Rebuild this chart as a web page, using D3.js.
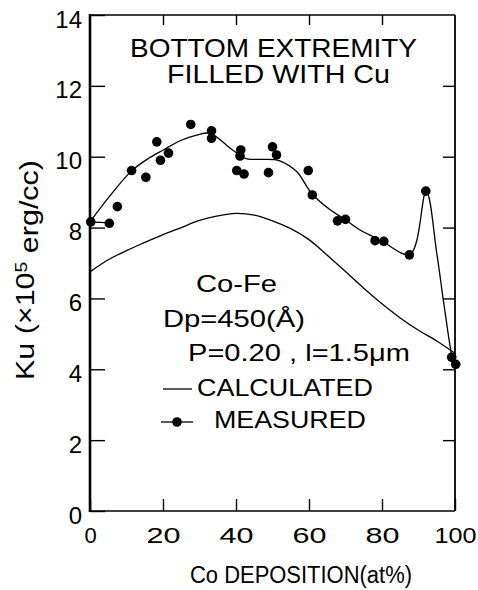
<!DOCTYPE html>
<html><head><meta charset="utf-8">
<script src="https://cdnjs.cloudflare.com/ajax/libs/d3/7.8.5/d3.min.js"></script>
<style>
html,body{margin:0;padding:0;background:#fff;}
svg{display:block;font-family:"Liberation Sans",Arial,sans-serif;}
</style></head>
<body><svg id="c" width="478" height="590"></svg>
<script>
// ---- data ----
const xTicks = [0, 20, 40, 60, 80, 100];
const yTicks = [0, 2, 4, 6, 8, 10, 12, 14];

// measured points (Co at%, Ku x10^5 erg/cc)
const measX = [0.2, 5.3, 7.5, 11.4, 15.3, 18.3, 19.3, 21.5, 27.6, 33.3, 33.3, 40.2, 41.3, 41.1, 42.2, 48.9, 50.0, 51.1, 59.8, 60.9, 67.8, 70.0, 78.1, 80.5, 87.5, 92.0, 99.1, 100.2];
const measY = [8.16, 8.12, 8.59, 9.61, 9.42, 10.42, 9.90, 10.10, 10.91, 10.73, 10.52, 9.61, 10.19, 10.02, 9.51, 9.55, 10.28, 10.05, 9.61, 8.92, 8.19, 8.23, 7.63, 7.61, 7.23, 9.03, 4.34, 4.14];

// hand-drawn curve through the measured points
const fitX = [0, 5.5, 11.4, 16, 20.1, 24.7, 29.2, 32.9, 38.8, 41.5, 43, 50.2, 52, 56.6, 60.7, 65.8, 69.4, 74, 79.5, 87.7, 92.1, 95, 96.8, 98.2, 99.1];
const fitY = [8.16, 8.9, 9.6, 9.95, 10.19, 10.45, 10.61, 10.66, 10.21, 10.02, 9.94, 9.92, 9.88, 9.58, 8.97, 8.5, 8.26, 7.93, 7.65, 7.25, 9.03, 7.28, 5.95, 4.95, 4.36];
const stubX = [0, 4.2];
const stubY = [8.16, 8.14];

// calculated curve
const calcX = [0, 5, 10, 15, 20, 25, 30, 35, 40, 45, 50, 55, 60, 65, 70, 75, 80, 85, 90, 95, 100];
const calcY = [6.75, 7.09, 7.35, 7.58, 7.8, 8.0, 8.2, 8.33, 8.40, 8.35, 8.19, 7.97, 7.66, 7.22, 6.76, 6.29, 5.85, 5.45, 5.1, 4.8, 4.45];

// ---- chart ----
const svg = d3.select("#c");
const L = 90, R = 455, T = 15, B = 511;
const x = d3.scaleLinear().domain([0, 100]).range([L, R]);
const y = d3.scaleLinear().domain([0, 14]).range([B, T]);

// axes (inward ticks)
const gL = svg.append("g").attr("transform", `translate(${L},0)`)
  .call(d3.axisLeft(y).tickValues(yTicks).tickSize(-15).tickPadding(8).tickFormat(d3.format("d")));
gL.selectAll("text").attr("dy", "0.5em").style("font-size", "24px");
const gB = svg.append("g").attr("transform", `translate(0,${B})`)
  .call(d3.axisBottom(x).tickValues(xTicks).tickSize(-12).tickPadding(16).tickFormat(d3.format("d")));
gB.selectAll("text").style("font-size", "22px")
  .each(function(d){ const s = String(d); if (s.length === 2) d3.select(this).attr("textLength", 34).attr("lengthAdjust","spacingAndGlyphs");
                      if (s.length === 3) d3.select(this).attr("textLength", 42).attr("lengthAdjust","spacingAndGlyphs"); });
svg.append("g").attr("transform", `translate(0,${T})`)
  .call(d3.axisTop(x).tickValues(xTicks.slice(1, -1)).tickSize(-10).tickFormat(""));
svg.append("g").attr("transform", `translate(${R},0)`)
  .call(d3.axisRight(y).tickValues(yTicks.slice(1, -1)).tickSize(-12).tickFormat(""));
svg.selectAll(".domain").remove();
svg.selectAll(".tick line").attr("stroke", "#000").attr("stroke-width", 1.4);
svg.selectAll(".tick text").attr("fill", "#000");

// frame
svg.append("line").attr("x1", L).attr("x2", L).attr("y1", T - 1).attr("y2", B + 1).attr("stroke", "#000").attr("stroke-width", 2.6);
svg.append("line").attr("x1", L).attr("x2", R).attr("y1", T).attr("y2", T).attr("stroke", "#000").attr("stroke-width", 1.5);
svg.append("line").attr("x1", L).attr("x2", R).attr("y1", B).attr("y2", B).attr("stroke", "#000").attr("stroke-width", 1.5);
svg.append("line").attr("x1", R).attr("x2", R).attr("y1", T).attr("y2", B).attr("stroke", "#000").attr("stroke-width", 1.8);

// curves
const lineGen = d3.line().x(d => x(d[0])).y(d => y(d[1])).curve(d3.curveCatmullRom.alpha(0.5));
svg.append("path").datum(calcX.map((v, i) => [v, calcY[i]]))
  .attr("d", lineGen).attr("fill", "none").attr("stroke", "#000").attr("stroke-width", 1.3);
svg.append("path").datum(fitX.map((v, i) => [v, fitY[i]]))
  .attr("d", lineGen).attr("fill", "none").attr("stroke", "#000").attr("stroke-width", 1.3);
svg.append("path").datum(stubX.map((v, i) => [v, stubY[i]]))
  .attr("d", d3.line().x(d => x(d[0])).y(d => y(d[1]))).attr("fill", "none").attr("stroke", "#000").attr("stroke-width", 1.3);

// measured points
svg.append("g").selectAll("circle").data(measX.map((v, i) => [v, measY[i]])).join("circle")
  .attr("cx", d => x(d[0])).attr("cy", d => y(d[1])).attr("r", 4.8).attr("fill", "#000");

// text helper
function txt(s, xl, yb, w, fs) {
  return svg.append("text").attr("x", xl).attr("y", yb).attr("textLength", w)
    .attr("lengthAdjust", "spacingAndGlyphs").style("font-size", fs + "px").attr("fill", "#000").text(s);
}
txt("BOTTOM EXTREMITY", 130, 57, 287, 25);
txt("FILLED WITH Cu", 167, 83, 223, 25);
txt("Co-Fe", 196, 292, 81, 24);
txt("Dp=450(Å)", 163, 327, 142, 24);
txt("P=0.20 , l=1.5μm", 188, 361, 222, 24);
txt("CALCULATED", 197, 396, 176, 24);
txt("MEASURED", 214, 428, 152, 24);
txt("Co DEPOSITION(at%)", 190, 583, 222, 23);

// legend symbols
svg.append("line").attr("x1", 163).attr("x2", 192).attr("y1", 389).attr("y2", 389).attr("stroke", "#000").attr("stroke-width", 1.3);
svg.append("line").attr("x1", 161).attr("x2", 193).attr("y1", 422).attr("y2", 422).attr("stroke", "#000").attr("stroke-width", 1.3);
svg.append("circle").attr("cx", 177).attr("cy", 422).attr("r", 4.8).attr("fill", "#000");

// y-axis title
const yt = svg.append("text").attr("transform", "translate(34,270) rotate(-90)")
  .attr("text-anchor", "middle").style("font-size", "25px").attr("fill", "#000")
  .attr("textLength", 220).attr("lengthAdjust", "spacingAndGlyphs");
yt.append("tspan").text("Ku (×10");
yt.append("tspan").attr("dy", "-0.45em").style("font-size", "16px").text("5");
yt.append("tspan").attr("dy", "0.45em").text(" erg/cc)");
</script></body></html>
